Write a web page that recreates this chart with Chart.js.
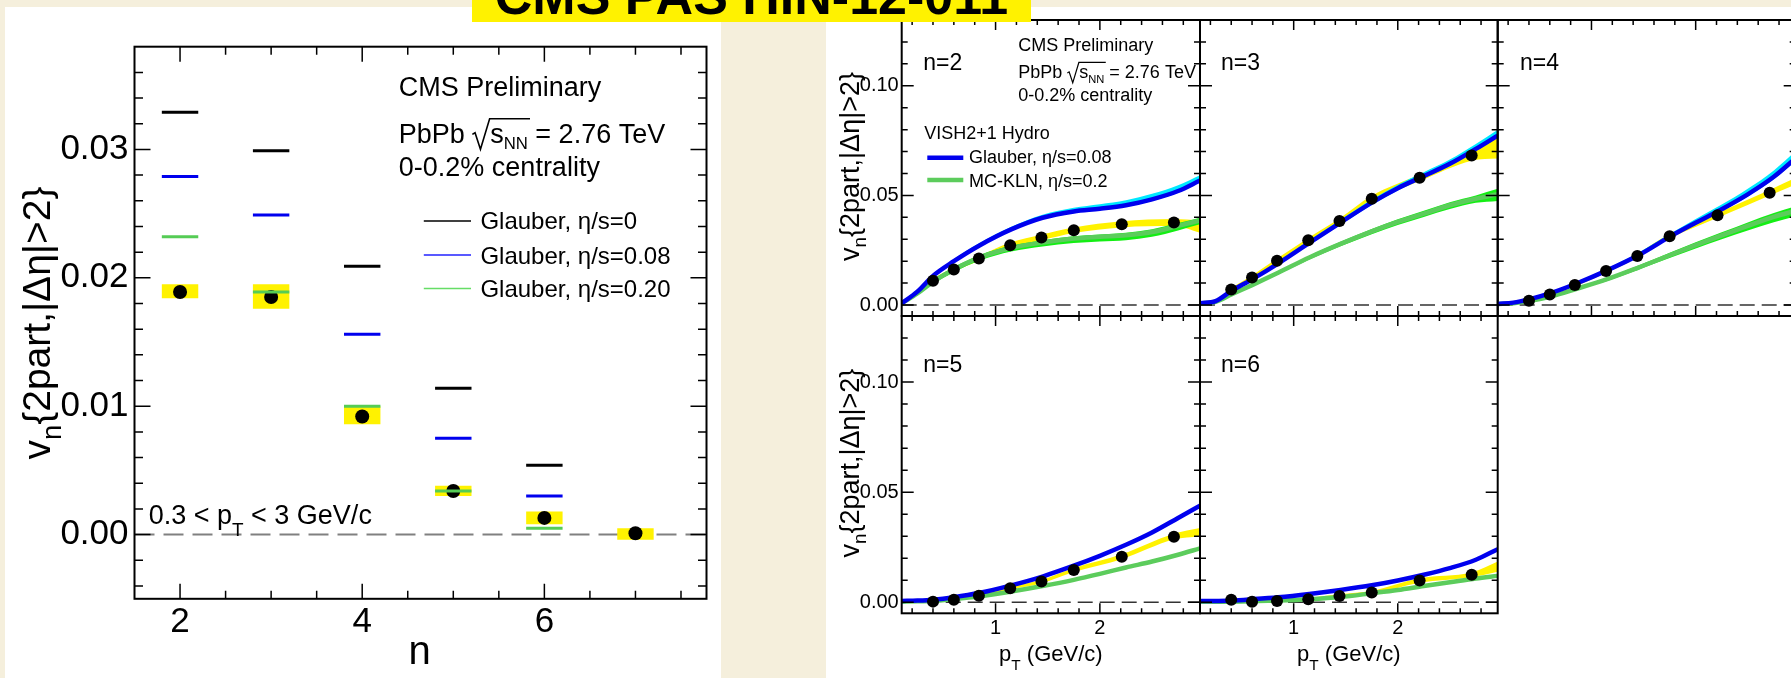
<!DOCTYPE html>
<html><head><meta charset="utf-8">
<script src="https://cdn.jsdelivr.net/npm/chart.js@4.4.1/dist/chart.umd.min.js"></script>
<style>
html,body{margin:0;padding:0;width:1791px;height:678px;overflow:hidden;background:#f5efdc;}
#stage{position:absolute;left:0;top:0;width:1791px;height:678px;overflow:hidden;}
.pan{position:absolute;background:#fff;}
canvas{position:absolute;}
#banner{position:absolute;left:472px;top:0;width:559px;height:21.5px;background:#fff200;overflow:hidden;}
#banner span{position:absolute;left:0;width:559px;text-align:center;top:-30px;font:bold 52px 'Liberation Sans',Arial,sans-serif;line-height:52px;white-space:nowrap;color:#000;}
</style></head><body>
<div id="stage">
<div class="pan" style="left:5px;top:6.5px;width:716px;height:672px"></div>
<div class="pan" style="left:826px;top:6.7px;width:965px;height:672px"></div>
</div>
<div id="banner"><span>CMS PAS HIN-12-011</span></div>
<script>
// ================= DATA: left panel (integrated vn vs n) =================
const harmonicN    = [2, 3, 4, 5, 6, 7];
const vnIntegrated = [0.0189, 0.0185, 0.0092, 0.0034, 0.0013, 0.0001];
const vnSysLow     = [0.0184, 0.0176, 0.0086, 0.0030, 0.0008, -0.0004];
const vnSysHigh    = [0.0195, 0.0195, 0.0100, 0.0038, 0.0018, 0.0005];
const theoryN      = [2, 3, 4, 5, 6];
const glauberEta0   = [0.0329, 0.0299, 0.0209, 0.0114, 0.0054];
const glauberEta008 = [0.0279, 0.0249, 0.0156, 0.0075, 0.0030];
const glauberEta020 = [0.0232, 0.0189, 0.0100, 0.0034, 0.0005];
const leftXTickLabels = [2, 4, 6];
const leftYTickLabels = [0.00, 0.01, 0.02, 0.03];

// ================= DATA: right panels (vn vs pT) =================
const ptData   = [0.4, 0.6, 0.84, 1.14, 1.44, 1.75, 2.21, 2.71];
const ptSys    = [0.4, 0.6, 0.84, 1.14, 1.44, 1.75, 2.21, 2.71, 2.96];
const ptTheory = [0.1, 0.25, 0.4, 0.6, 0.85, 1.15, 1.45, 1.75, 2.0, 2.25, 2.5, 2.75, 2.96];

const v2Data = [0.0111, 0.0162, 0.0212, 0.0273, 0.0308, 0.0341, 0.0368, 0.0376];
const v3Data = [0.0071, 0.0126, 0.0202, 0.0295, 0.0383, 0.0485, 0.0580, 0.0682];
const v4Data = [0.0020, 0.0048, 0.0091, 0.0155, 0.0224, 0.0314, 0.0409, 0.0512];
const v5Data = [0.0003, 0.0011, 0.0030, 0.0064, 0.0094, 0.0147, 0.0207, 0.0298];
const v6Data = [0.0011, 0.0002, 0.0006, 0.0014, 0.0029, 0.0044, 0.0099, 0.0125];

const v2SysLo = [0.0101, 0.0152, 0.0202, 0.0261, 0.0295, 0.0328, 0.0354, 0.0360, 0.0330];
const v2SysHi = [0.0121, 0.0172, 0.0222, 0.0285, 0.0321, 0.0354, 0.0382, 0.0392, 0.0385];
const v3SysLo = [0.0063, 0.0117, 0.0192, 0.0285, 0.0372, 0.0473, 0.0565, 0.0658, 0.0668];
const v3SysHi = [0.0079, 0.0135, 0.0212, 0.0306, 0.0395, 0.0498, 0.0595, 0.0706, 0.0766];
const v4SysLo = [0.0014, 0.0041, 0.0083, 0.0146, 0.0214, 0.0303, 0.0398, 0.0500, 0.0550];
const v4SysHi = [0.0026, 0.0055, 0.0099, 0.0164, 0.0234, 0.0325, 0.0420, 0.0525, 0.0580];
const v5SysLo = [0.0000, 0.0006, 0.0024, 0.0057, 0.0086, 0.0138, 0.0196, 0.0285, 0.0300];
const v5SysHi = [0.0006, 0.0016, 0.0036, 0.0071, 0.0102, 0.0156, 0.0218, 0.0311, 0.0337];
const v6SysLo = [0.0006, -0.0003, 0.0001, 0.0008, 0.0022, 0.0036, 0.0089, 0.0114, 0.0139];
const v6SysHi = [0.0016, 0.0007, 0.0011, 0.0020, 0.0036, 0.0052, 0.0109, 0.0136, 0.0185];

// VISH2+1 Glauber eta/s=0.08 (blue) with band (cyan)
const glauber2   = [0.0008, 0.0061, 0.0133, 0.0200, 0.0273, 0.0345, 0.0398, 0.0427, 0.0439, 0.0455, 0.0482, 0.0520, 0.0568];
const glauber2Lo = [0.0006, 0.0056, 0.0127, 0.0193, 0.0266, 0.0338, 0.0391, 0.0420, 0.0432, 0.0448, 0.0474, 0.0512, 0.0560];
const glauber2Hi = [0.0010, 0.0066, 0.0140, 0.0209, 0.0284, 0.0357, 0.0412, 0.0444, 0.0460, 0.0478, 0.0507, 0.0546, 0.0592];
const glauber3   = [0.0008, 0.0018, 0.0064, 0.0117, 0.0189, 0.0283, 0.0376, 0.0467, 0.0533, 0.0588, 0.0644, 0.0712, 0.0773];
const glauber3Lo = [0.0007, 0.0016, 0.0059, 0.0111, 0.0182, 0.0275, 0.0366, 0.0456, 0.0522, 0.0578, 0.0634, 0.0702, 0.0763];
const glauber3Hi = [0.0009, 0.0021, 0.0070, 0.0125, 0.0199, 0.0295, 0.0389, 0.0481, 0.0549, 0.0606, 0.0664, 0.0735, 0.0800];
const glauber4   = [0.0005, 0.0011, 0.0026, 0.0053, 0.0097, 0.0158, 0.0227, 0.0311, 0.0375, 0.0437, 0.0505, 0.0585, 0.0670];
const glauber4Lo = [0.0004, 0.0010, 0.0024, 0.0050, 0.0093, 0.0153, 0.0221, 0.0304, 0.0367, 0.0428, 0.0495, 0.0574, 0.0658];
const glauber4Hi = [0.0006, 0.0013, 0.0029, 0.0058, 0.0104, 0.0167, 0.0238, 0.0324, 0.0392, 0.0458, 0.0530, 0.0614, 0.0702];
const glauber5   = [0.0006, 0.0008, 0.0012, 0.0023, 0.0043, 0.0077, 0.0117, 0.0166, 0.0211, 0.0261, 0.0317, 0.0383, 0.0439];
const glauber6   = [0.0006, 0.0006, 0.0008, 0.0014, 0.0023, 0.0038, 0.0056, 0.0077, 0.0099, 0.0125, 0.0155, 0.0193, 0.0241];

// VISH2+1 MC-KLN eta/s=0.2 (green) with band (bright green)
const kln2   = [0.0008, 0.0053, 0.0106, 0.0162, 0.0217, 0.0260, 0.0285, 0.0303, 0.0311, 0.0318, 0.0333, 0.0361, 0.0386];
const kln2Lo = [0.0006, 0.0045, 0.0096, 0.0150, 0.0203, 0.0244, 0.0267, 0.0283, 0.0290, 0.0296, 0.0311, 0.0340, 0.0368];
const kln2Hi = [0.0010, 0.0060, 0.0115, 0.0172, 0.0228, 0.0271, 0.0296, 0.0314, 0.0322, 0.0330, 0.0346, 0.0374, 0.0398];
const kln3   = [0.0008, 0.0015, 0.0048, 0.0091, 0.0147, 0.0217, 0.0279, 0.0336, 0.0379, 0.0417, 0.0455, 0.0485, 0.0505];
const kln3Lo = [0.0007, 0.0013, 0.0043, 0.0085, 0.0139, 0.0208, 0.0268, 0.0323, 0.0365, 0.0402, 0.0438, 0.0466, 0.0475];
const kln3Hi = [0.0009, 0.0017, 0.0053, 0.0097, 0.0154, 0.0225, 0.0289, 0.0347, 0.0391, 0.0430, 0.0469, 0.0500, 0.0530];
const kln4   = [0.0005, 0.0008, 0.0018, 0.0038, 0.0073, 0.0118, 0.0171, 0.0227, 0.0273, 0.0318, 0.0361, 0.0402, 0.0430];
const kln4Lo = [0.0004, 0.0007, 0.0015, 0.0034, 0.0067, 0.0110, 0.0161, 0.0214, 0.0258, 0.0300, 0.0340, 0.0378, 0.0405];
const kln4Hi = [0.0006, 0.0009, 0.0020, 0.0042, 0.0078, 0.0125, 0.0180, 0.0238, 0.0286, 0.0332, 0.0377, 0.0420, 0.0450];
const kln5   = [0.0003, 0.0005, 0.0006, 0.0014, 0.0027, 0.0049, 0.0074, 0.0102, 0.0129, 0.0158, 0.0185, 0.0216, 0.0245];
const kln6   = [0.0002, 0.0002, 0.0003, 0.0005, 0.0008, 0.0014, 0.0024, 0.0041, 0.0056, 0.0074, 0.0091, 0.0108, 0.0120];

const rightXTickLabels = [1, 2];
const rightYTickLabels = [0.00, 0.05, 0.10];

// ================= RENDERING =================
const FONT = "'Liberation Sans', Arial, Helvetica, sans-serif";
Chart.defaults.font.family = FONT;
Chart.defaults.animation = false;

function pts(xs, ys) { return xs.map((x, i) => ({ x: x, y: ys[i] })); }
function range(a, b, s) { const o = []; for (let v = a; v <= b + 1e-9; v += s) o.push(+v.toFixed(6)); return o; }

function mkCanvas(box) {
  const c = document.createElement('canvas');
  c.width = box.w; c.height = box.h;
  Object.assign(c.style, { left: box.l + 'px', top: box.t + 'px', width: box.w + 'px', height: box.h + 'px' });
  document.getElementById('stage').appendChild(c);
  return c;
}

function linAxis(o) {
  return {
    type: 'linear', min: o.min, max: o.max, offset: false, position: o.position,
    grid: { display: false, drawTicks: false }, border: { display: false },
    ticks: { display: !!o.show, color: '#000', padding: o.pad, font: { family: FONT, size: o.size },
      autoSkip: false, maxRotation: 0, minRotation: 0, callback: o.fmt },
    afterBuildTicks: s => { s.ticks = o.ticks.map(v => ({ value: v })); },
    afterFit: s => { if (o.horizontal) s.height = o.fit; else s.width = o.fit; }
  };
}

function framePlugin(f) {
  return { id: 'rootFrame', afterDatasetsDraw(chart) {
    const { ctx, chartArea: a, scales: { x, y } } = chart;
    ctx.save();
    ctx.strokeStyle = '#000'; ctx.lineWidth = f.tickWidth; ctx.beginPath();
    const tx = (vals, len) => vals.forEach(v => { const p = x.getPixelForValue(v); if (p < a.left + 1 || p > a.right - 1) return;
      ctx.moveTo(p, a.bottom); ctx.lineTo(p, a.bottom - len); ctx.moveTo(p, a.top); ctx.lineTo(p, a.top + len); });
    const ty = (vals, len) => vals.forEach(v => { const p = y.getPixelForValue(v); if (p < a.top + 1 || p > a.bottom - 1) return;
      ctx.moveTo(a.left, p); ctx.lineTo(a.left + len, p); ctx.moveTo(a.right, p); ctx.lineTo(a.right - len, p); });
    tx(f.xMinor, f.xMinorLen); tx(f.xMajor, f.xMajorLen); ty(f.yMinor, f.yMinorLen); ty(f.yMajor, f.yMajorLen);
    ctx.stroke();
    ctx.lineWidth = f.frameWidth; ctx.strokeRect(a.left, a.top, a.right - a.left, a.bottom - a.top);
    ctx.restore();
  } };
}

function textPlugin(box, fn) {
  return { id: 'texts', afterDraw(chart) {
    const ctx = chart.ctx; ctx.save(); ctx.translate(-box.l, -box.t);
    ctx.fillStyle = '#000'; ctx.strokeStyle = '#000'; ctx.textAlign = 'left'; ctx.textBaseline = 'alphabetic';
    fn(ctx); ctx.restore();
  } };
}

// rich text: parts [{t, sub, off}]
function richWidth(ctx, parts, size) {
  let w = 0;
  for (const p of parts) { ctx.font = (p.sub ? size * 0.7 : size) + 'px ' + FONT; w += ctx.measureText(p.t).width; }
  return w;
}
function richText(ctx, x, y, parts, size) {
  let cx = x;
  for (const p of parts) {
    const s = p.sub ? size * 0.7 : size;
    ctx.font = s + 'px ' + FONT;
    ctx.fillText(p.t, cx, y + (p.sub ? size * (p.off || 0.3) : 0));
    cx += ctx.measureText(p.t).width;
  }
  return cx;
}
function sqrtLine(ctx, x, y, size) {
  ctx.font = size + 'px ' + FONT;
  ctx.fillText('PbPb', x, y);
  const x0 = x + ctx.measureText('PbPb ').width;
  const sx = x0 + 0.66 * size;
  ctx.fillText('s', sx, y);
  const sw = ctx.measureText('s').width;
  ctx.font = (size * 0.62) + 'px ' + FONT;
  ctx.fillText('NN', sx + sw, y + 0.25 * size);
  const nnw = ctx.measureText('NN').width;
  const xEnd = sx + sw + nnw + 0.08 * size;
  ctx.lineWidth = Math.max(1.2, size / 17);
  ctx.beginPath();
  ctx.moveTo(x0, y - 0.30 * size);
  ctx.lineTo(x0 + 0.1 * size, y - 0.36 * size);
  ctx.lineTo(x0 + 0.30 * size, y + 0.25 * size);
  ctx.lineTo(x0 + 0.64 * size, y - 0.88 * size);
  ctx.lineTo(xEnd, y - 0.88 * size);
  ctx.stroke();
  ctx.font = size + 'px ' + FONT;
  ctx.fillText(' = 2.76 TeV', xEnd - 0.08 * size, y);
}
function vnTitle(ctx, bx, cy, size) {
  const parts = [{ t: 'v' }, { t: 'n', sub: true, off: 0.28 }, { t: '{2part,|\u0394\u03b7|>2}' }];
  const w = richWidth(ctx, parts, size);
  ctx.save(); ctx.translate(bx, cy); ctx.rotate(-Math.PI / 2);
  richText(ctx, -w / 2, 0, parts, size);
  ctx.restore();
}

// ---------------- LEFT PANEL ----------------
(function () {
  const box = { l: 0, t: 0, w: 730, h: 678 };
  const area = { l: 134.5, t: 46.7, r: 706.5, b: 598.8 };
  const yw = 120, xh = 60;
  const segs = (ns, vs) => { const o = []; ns.forEach((n, i) => { o.push({ x: n - 0.2, y: vs[i] }, { x: n + 0.2, y: vs[i] }, { x: n + 0.25, y: null }); }); return o; };
  const ds = [
    { type: 'line', data: segs(theoryN, glauberEta0), borderColor: '#000', borderWidth: 3, pointRadius: 0, spanGaps: false, order: 0 },
    { type: 'line', data: segs(theoryN, glauberEta008), borderColor: '#0000ee', borderWidth: 3, pointRadius: 0, spanGaps: false, order: 0 },
    { type: 'line', data: segs(theoryN, glauberEta020), borderColor: '#55cc55', borderWidth: 3, pointRadius: 0, spanGaps: false, order: 0 },
    { type: 'line', data: pts(harmonicN, vnIntegrated), showLine: false, pointRadius: 7, pointBackgroundColor: '#000', pointBorderWidth: 0, order: 1 },
    { type: 'bar', data: harmonicN.map((n, i) => ({ x: n, y: [vnSysLow[i], vnSysHigh[i]] })), backgroundColor: '#fff200', borderWidth: 0, barPercentage: 0.4, categoryPercentage: 1.0, order: 10 },
    { type: 'line', data: pts([1.5, 7.78], [0, 0]), borderColor: '#808080', borderWidth: 2, borderDash: [20, 9], pointRadius: 0, order: 20 }
  ];
  new Chart(mkCanvas(box), {
    type: 'bar',
    data: { datasets: ds },
    options: {
      responsive: false, devicePixelRatio: 1, animation: false, events: [],
      layout: { padding: { left: area.l - box.l - yw, top: area.t - box.t, right: box.l + box.w - area.r, bottom: box.t + box.h - area.b - xh } },
      plugins: { legend: { display: false }, tooltip: { enabled: false } },
      scales: {
        x: linAxis({ min: 1.5, max: 7.78, position: 'bottom', ticks: leftXTickLabels, show: true, size: 35, pad: 3, fmt: v => String(v), horizontal: true, fit: xh }),
        y: linAxis({ min: -0.005, max: 0.038, position: 'left', ticks: leftYTickLabels, show: true, size: 35, pad: 6, fmt: v => v.toFixed(2), horizontal: false, fit: yw })
      }
    },
    plugins: [
      framePlugin({ xMajor: [2, 4, 6], xMinor: range(1.5, 7.75, 0.5), yMajor: range(0, 0.03, 0.01), yMinor: range(-0.004, 0.038, 0.002),
        xMajorLen: 15, xMinorLen: 8, yMajorLen: 16, yMinorLen: 8.5, tickWidth: 1.5, frameWidth: 2 }),
      textPlugin(box, ctx => {
        ctx.font = '27px ' + FONT;
        ctx.fillText('CMS Preliminary', 398.8, 96);
        sqrtLine(ctx, 398.8, 142.5, 27);
        ctx.font = '27px ' + FONT;
        ctx.fillText('0-0.2% centrality', 398.8, 176.4);
        const leg = [
          { c: '#000000', t: 'Glauber, \u03b7/s=0', ly: 221, ty: 229 },
          { c: '#2222ff', t: 'Glauber, \u03b7/s=0.08', ly: 255, ty: 263.6 },
          { c: '#66dd66', t: 'Glauber, \u03b7/s=0.20', ly: 288.4, ty: 296.9 }
        ];
        leg.forEach(e => {
          ctx.strokeStyle = e.c; ctx.lineWidth = 1.5; ctx.beginPath(); ctx.moveTo(423.8, e.ly); ctx.lineTo(471, e.ly); ctx.stroke();
          ctx.fillStyle = '#000'; ctx.font = '24px ' + FONT; ctx.fillText(e.t, 480.4, e.ty);
        });
        richText(ctx, 148.7, 523.5, [{ t: '0.3 < p' }, { t: 'T', sub: true, off: 0.45 }, { t: ' < 3 GeV/c' }], 27);
        vnTitle(ctx, 50, 323, 39);
        ctx.font = '40px ' + FONT; ctx.textAlign = 'center';
        ctx.fillText('n', 419.5, 663.6);
      })
    ]
  });
})();

// ---------------- RIGHT PANELS ----------------
const rightPanels = [
  { label: 'n=2', lx: 923.3, ly: 70,    area: { l: 901.7, t: 20,  r: 1200,   b: 316 },   data: v2Data, sysLo: v2SysLo, sysHi: v2SysHi,
    blue: glauber2, blueLo: glauber2Lo, blueHi: glauber2Hi, green: kln2, greenLo: kln2Lo, greenHi: kln2Hi, yLab: true, xLab: false, info: true },
  { label: 'n=3', lx: 1221, ly: 70,     area: { l: 1200,  t: 20,  r: 1497.7, b: 316 },   data: v3Data, sysLo: v3SysLo, sysHi: v3SysHi,
    blue: glauber3, blueLo: glauber3Lo, blueHi: glauber3Hi, green: kln3, greenLo: kln3Lo, greenHi: kln3Hi, yLab: false, xLab: false },
  { label: 'n=4', lx: 1520, ly: 70,     area: { l: 1497.7, t: 20, r: 1795.7, b: 316 },   data: v4Data, sysLo: v4SysLo, sysHi: v4SysHi,
    blue: glauber4, blueLo: glauber4Lo, blueHi: glauber4Hi, green: kln4, greenLo: kln4Lo, greenHi: kln4Hi, yLab: false, xLab: false },
  { label: 'n=5', lx: 923.3, ly: 371.7, area: { l: 901.7, t: 316, r: 1200,   b: 613.3 }, data: v5Data, sysLo: v5SysLo, sysHi: v5SysHi,
    blue: glauber5, green: kln5, yLab: true, xLab: true },
  { label: 'n=6', lx: 1221, ly: 371.7,  area: { l: 1200,  t: 316, r: 1497.7, b: 613.3 }, data: v6Data, sysLo: v6SysLo, sysHi: v6SysHi,
    blue: glauber6, green: kln6, yLab: false, xLab: true }
];

rightPanels.forEach(p => {
  const a = p.area;
  const box = { l: Math.floor(a.l - 80), t: Math.max(0, Math.floor(a.t - 20)), w: 0, h: 0 };
  box.w = Math.ceil(a.r + 20 - box.l); box.h = Math.ceil(a.b + 65 - box.t);
  const yw = 60, xh = 40;
  const ds = [];
  const band = (xs, lo, hi, color, order) => {
    const i = ds.length;
    ds.push({ type: 'line', data: pts(xs, lo), borderWidth: 0, borderColor: 'transparent', pointRadius: 0, fill: false, cubicInterpolationMode: 'monotone', order: order });
    ds.push({ type: 'line', data: pts(xs, hi), borderWidth: 0, borderColor: 'transparent', pointRadius: 0, fill: { target: i }, backgroundColor: color, cubicInterpolationMode: 'monotone', order: order });
  };
  ds.push({ type: 'line', data: pts(ptData, p.data), showLine: false, pointRadius: 6, pointBackgroundColor: '#000', pointBorderWidth: 0, order: 0 });
  ds.push({ type: 'line', data: pts(ptTheory, p.blue), borderColor: '#0000ee', borderWidth: 4.5, pointRadius: 0, fill: false, cubicInterpolationMode: 'monotone', order: 2 });
  if (p.blueLo) band(ptTheory, p.blueLo, p.blueHi, '#00e8ff', 3);
  ds.push({ type: 'line', data: pts(ptTheory, p.green), borderColor: '#5ccc5c', borderWidth: 4.5, pointRadius: 0, fill: false, cubicInterpolationMode: 'monotone', order: 4 });
  if (p.greenLo) band(ptTheory, p.greenLo, p.greenHi, '#14ee14', 5);
  band(ptSys, p.sysLo, p.sysHi, '#fff200', 6);
  ds.push({ type: 'line', data: pts([0.1, 2.96], [0, 0]), borderColor: '#333', borderWidth: 1.5, borderDash: [15, 7], pointRadius: 0, fill: false, order: 20 });

  new Chart(mkCanvas(box), {
    type: 'line',
    data: { datasets: ds },
    options: {
      responsive: false, devicePixelRatio: 1, animation: false, events: [],
      layout: { padding: { left: a.l - box.l - yw, top: a.t - box.t, right: box.l + box.w - a.r, bottom: box.t + box.h - a.b - xh } },
      plugins: { legend: { display: false }, tooltip: { enabled: false } },
      scales: {
        x: linAxis({ min: 0.1, max: 2.96, position: 'bottom', ticks: rightXTickLabels, show: p.xLab, size: 20, pad: 3, fmt: v => String(v), horizontal: true, fit: xh }),
        y: linAxis({ min: -0.005, max: 0.13, position: 'left', ticks: rightYTickLabels, show: p.yLab, size: 20, pad: 3, fmt: v => v.toFixed(2), horizontal: false, fit: yw })
      }
    },
    plugins: [
      framePlugin({ xMajor: [1, 2], xMinor: range(0.2, 2.8, 0.2), yMajor: [0, 0.05, 0.1], yMinor: range(0, 0.13, 0.01),
        xMajorLen: 10, xMinorLen: 5, yMajorLen: 12, yMinorLen: 6, tickWidth: 1.5, frameWidth: 2 }),
      textPlugin(box, ctx => {
        ctx.font = '23px ' + FONT; ctx.fillText(p.label, p.lx, p.ly);
        if (p.info) {
          ctx.font = '18px ' + FONT;
          ctx.fillText('CMS Preliminary', 1018.3, 51);
          sqrtLine(ctx, 1018.3, 78.3, 18);
          ctx.font = '18px ' + FONT;
          ctx.fillText('0-0.2% centrality', 1018.3, 101);
          ctx.fillText('VISH2+1 Hydro', 924.3, 139);
          const leg = [{ c: '#0000ee', t: 'Glauber, \u03b7/s=0.08', ly: 157.7, ty: 162.8 }, { c: '#5ccc5c', t: 'MC-KLN, \u03b7/s=0.2', ly: 180, ty: 187 }];
          leg.forEach(e => {
            ctx.strokeStyle = e.c; ctx.lineWidth = 4.5; ctx.beginPath(); ctx.moveTo(927.3, e.ly); ctx.lineTo(963.3, e.ly); ctx.stroke();
            ctx.fillStyle = '#000'; ctx.font = '18px ' + FONT; ctx.fillText(e.t, 969, e.ty);
          });
        }
        if (p.yLab) vnTitle(ctx, 858.5, (a.t + a.b) / 2 - 1.5, 27);
        if (p.xLab) {
          const parts = [{ t: 'p' }, { t: 'T', sub: true, off: 0.4 }, { t: ' (GeV/c)' }];
          const w = richWidth(ctx, parts, 22);
          richText(ctx, (a.l + a.r) / 2 - w / 2, 661, parts, 22);
        }
      })
    ]
  });
});
</script>
</body></html>
